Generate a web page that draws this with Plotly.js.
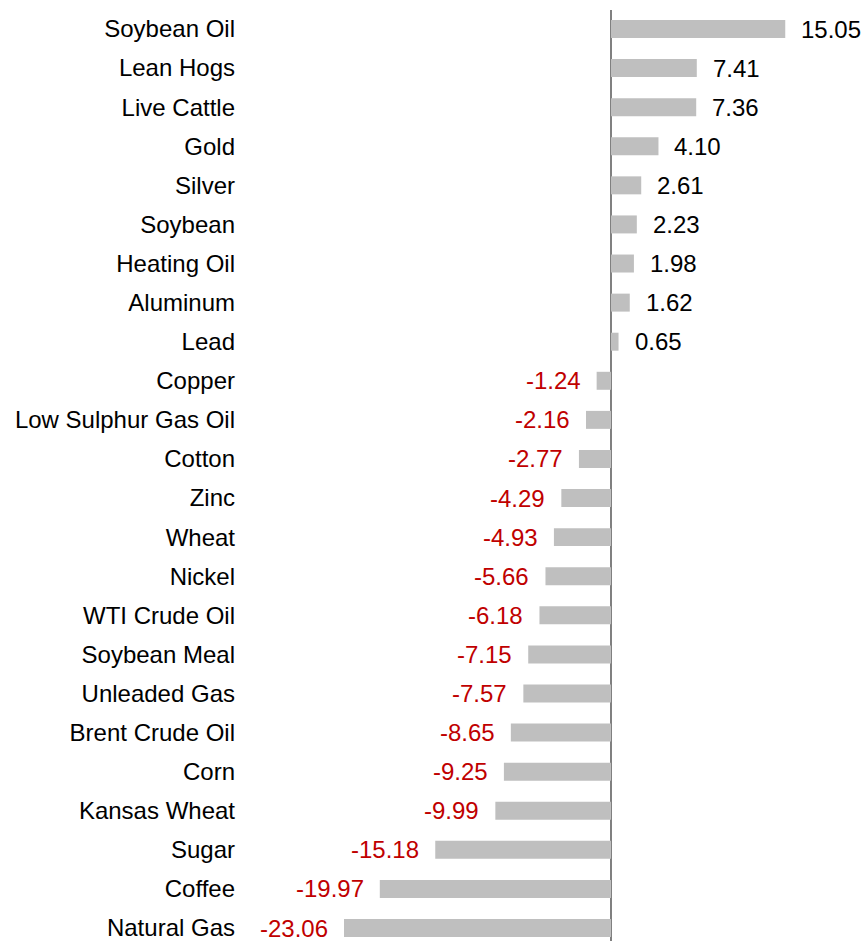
<!DOCTYPE html>
<html>
<head>
<meta charset="utf-8">
<script src="https://cdn.plot.ly/plotly-3.0.1.min.js"></script>
<style>html,body{margin:0;padding:0;background:#fff;}#chart{width:865px;height:941px;}</style>
</head>
<body>
<div id="chart"></div>
<script>
var commodities = ["Soybean Oil","Lean Hogs","Live Cattle","Gold","Silver","Soybean","Heating Oil","Aluminum","Lead","Copper","Low Sulphur Gas Oil","Cotton","Zinc","Wheat","Nickel","WTI Crude Oil","Soybean Meal","Unleaded Gas","Brent Crude Oil","Corn","Kansas Wheat","Sugar","Coffee","Natural Gas"];
var changes = [15.05,7.41,7.36,4.10,2.61,2.23,1.98,1.62,0.65,-1.24,-2.16,-2.77,-4.29,-4.93,-5.66,-6.18,-7.15,-7.57,-8.65,-9.25,-9.99,-15.18,-19.97,-23.06];

var FONT = "Liberation Sans, Arial, sans-serif";
var FS = 24;
var L = 240, W = 865, ZERO = 611, PXU = 11.578;

var annotations = commodities.map(function(c, i){
  var v = changes[i];
  var pos = v >= 0;
  return {
    x: v, y: c, xref: 'x', yref: 'y',
    text: v.toFixed(2),
    showarrow: false,
    xanchor: pos ? 'left' : 'right',
    xshift: pos ? 14 : -14,
    font: {family: FONT, size: FS, color: pos ? '#000000' : '#c00000'}
  };
});

var trace = {
  type: 'bar',
  orientation: 'h',
  x: changes,
  y: commodities,
  marker: {color: '#bfbfbf', line: {width: 0}},
  hoverinfo: 'none'
};

var layout = {
  width: W, height: 941,
  margin: {l: L, r: 0, t: 10, b: 0, pad: 0},
  paper_bgcolor: '#ffffff', plot_bgcolor: '#ffffff',
  showlegend: false,
  bargap: 0.54,
  font: {family: FONT, size: FS, color: '#000000'},
  xaxis: {
    range: [-(ZERO - L) / PXU, (W - ZERO) / PXU],
    showgrid: false, showticklabels: false, ticks: '',
    zeroline: true, zerolinecolor: '#808080', zerolinewidth: 1.5,
    showline: false, fixedrange: true
  },
  yaxis: {
    type: 'category',
    categoryorder: 'array', categoryarray: commodities,
    range: [23 + 13/39.09, -19/39.09],
    showgrid: false, zeroline: false, showline: false,
    ticks: '', ticklabelstandoff: 4,
    tickfont: {family: FONT, size: FS, color: '#000000'},
    fixedrange: true
  },
  annotations: annotations
};

Plotly.newPlot('chart', [trace], layout, {displayModeBar: false, staticPlot: true});
</script>
</body>
</html>
